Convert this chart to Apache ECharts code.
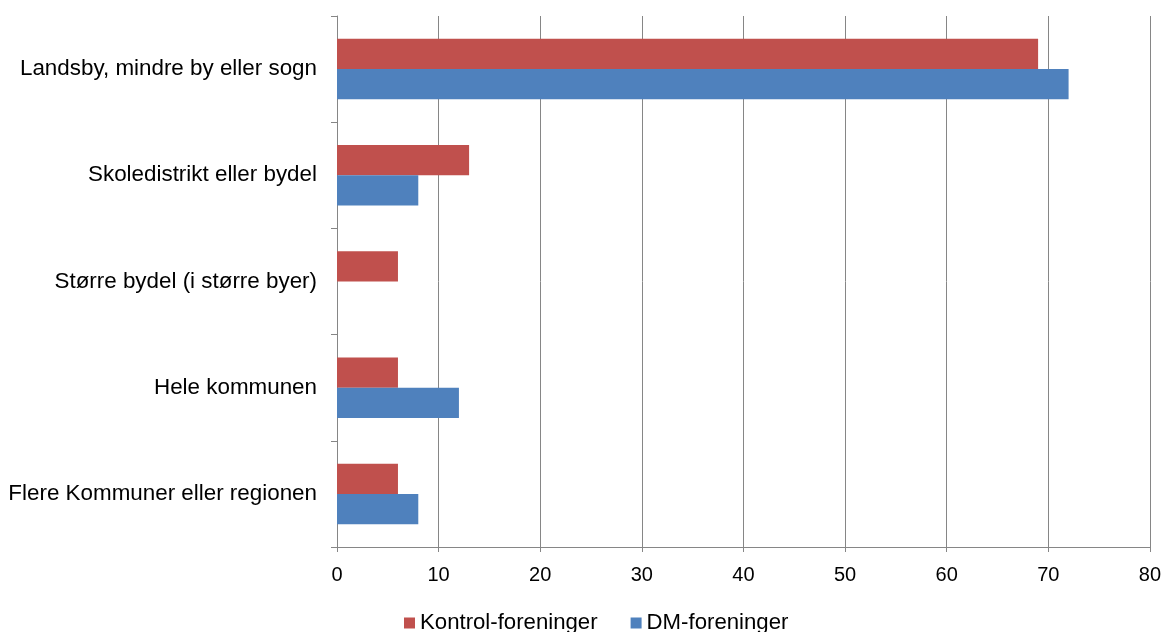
<!DOCTYPE html>
<html>
<head>
<meta charset="utf-8">
<script src="https://cdn.jsdelivr.net/npm/echarts@6/dist/echarts.min.js"></script>
<style>
  html, body { margin: 0; padding: 0; background: #fff; }
  #chart { width: 1164px; height: 632px; }
</style>
</head>
<body>
<div id="chart"></div>
<script>
// Area categories, listed top to bottom
const categories = [
  'Landsby, mindre by eller sogn',
  'Skoledistrikt eller bydel',
  'Større bydel (i større byer)',
  'Hele kommunen',
  'Flere Kommuner eller regionen'
];
const seriesNames = ['Kontrol-foreninger', 'DM-foreninger'];
const kontrolValues = [69, 13, 6, 6, 6];
const dmValues = [72, 8, 0, 12, 8];
const xTicks = { min: 0, max: 80, interval: 10 };

const FONT = '"Liberation Sans", Arial, sans-serif';
const GRID_GRAY = '#868686';

const chart = echarts.init(document.getElementById('chart'), null, { renderer: 'canvas' });
chart.setOption({
  animation: false,
  backgroundColor: '#ffffff',
  textStyle: { fontFamily: FONT, color: '#000' },
  grid: { left: 337, right: 14, top: 16, bottom: 85, containLabel: false },
  legend: {
    data: seriesNames,
    left: 399,
    top: 607,
    icon: 'rect',
    itemWidth: 11,
    itemHeight: 11,
    itemGap: 33,
    textStyle: { fontFamily: FONT, fontSize: 22.2, color: '#000', padding: [10, 0, 0, 0] }
  },
  xAxis: {
    type: 'value',
    min: xTicks.min,
    max: xTicks.max,
    interval: xTicks.interval,
    axisLine: { show: true, lineStyle: { color: GRID_GRAY, width: 1 } },
    axisTick: { show: true, length: 5, lineStyle: { color: GRID_GRAY, width: 1 } },
    axisLabel: { fontFamily: FONT, fontSize: 20, color: '#000', margin: 18 },
    splitLine: { show: true, lineStyle: { color: GRID_GRAY, width: 1 } }
  },
  yAxis: {
    type: 'category',
    data: categories,
    inverse: true,
    axisLine: { show: true, lineStyle: { color: GRID_GRAY, width: 1 } },
    axisTick: { show: true, length: 6, lineStyle: { color: GRID_GRAY, width: 1 } },
    axisLabel: { fontFamily: FONT, fontSize: 22.4, color: '#000', margin: 20 }
  },
  series: [
    {
      name: seriesNames[0],
      type: 'bar',
      data: kontrolValues,
      barGap: '0%',
      barCategoryGap: '43%',
      itemStyle: { color: '#C0504D' }
    },
    {
      name: seriesNames[1],
      type: 'bar',
      data: dmValues,
      barGap: '0%',
      barCategoryGap: '43%',
      itemStyle: { color: '#4F81BD' }
    }
  ]
});
</script>
</body>
</html>
